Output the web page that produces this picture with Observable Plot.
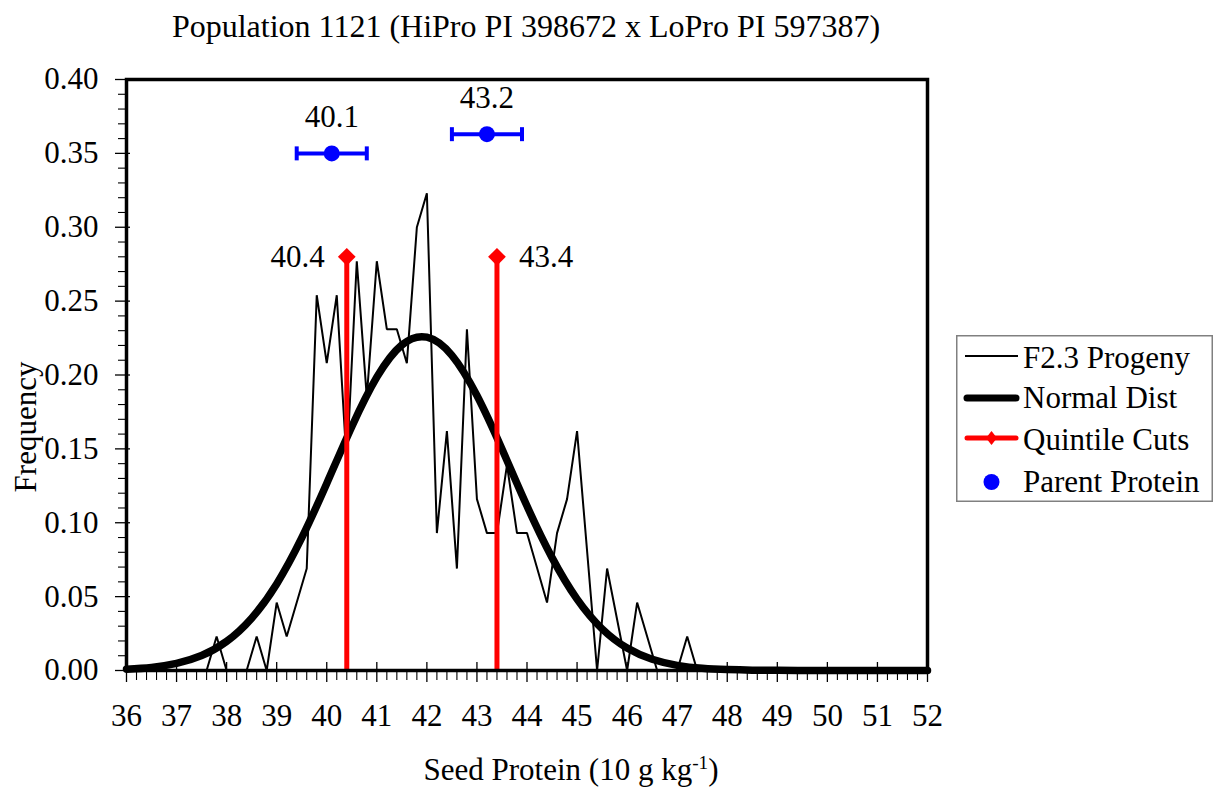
<!DOCTYPE html>
<html><head><meta charset="utf-8">
<script src="https://cdn.jsdelivr.net/npm/d3@7"></script>
<script src="https://cdn.jsdelivr.net/npm/@observablehq/plot@0.6"></script>
<style>
body{margin:0;background:#fff;font-family:"Liberation Serif","Times New Roman",serif;color:#000;}
#wrap{position:relative;width:1214px;height:790px;overflow:hidden;}
#chart{position:absolute;left:0;top:0;}
#chart svg, #chart svg text{font-family:"Liberation Serif","Times New Roman",serif !important;}
#chart svg text{font-size:31px;}
#title{position:absolute;left:0;width:1052px;top:8px;text-align:center;font-size:32px;white-space:nowrap;}
#xlabel{position:absolute;left:0;width:1142px;top:752px;text-align:center;font-size:31px;white-space:nowrap;}
#xlabel sup{font-size:0.62em;line-height:0;vertical-align:0.55em;}
#ylabel{position:absolute;left:26px;top:427px;transform:translate(-50%,-50%) rotate(-90deg);font-size:31px;white-space:nowrap;}
#legend{position:absolute;left:956px;top:335px;}
</style></head>
<body>
<div id="wrap">
  <div id="chart"></div>
  <div id="title">Population 1121 (HiPro PI 398672 x LoPro PI 597387)</div>
  <div id="xlabel">Seed Protein (10 g kg<sup>-1</sup>)</div>
  <div id="ylabel">Frequency</div>
  <svg id="legend" width="257" height="167" font-family="Liberation Serif, Times New Roman, serif" font-size="31">
    <rect x="0.75" y="0.75" width="255.5" height="165.5" fill="white" stroke="#808080" stroke-width="1.5"/>
    <line x1="9" x2="62" y1="21" y2="21" stroke="black" stroke-width="2"/>
    <text x="67" y="33">F2.3 Progeny</text>
    <line x1="11" x2="60" y1="63" y2="63" stroke="black" stroke-width="7" stroke-linecap="round"/>
    <text x="67" y="73">Normal Dist</text>
    <line x1="11" x2="60" y1="103" y2="103" stroke="red" stroke-width="5" stroke-linecap="round"/>
    <path d="M35.5 96 L41 103 L35.5 110 L30 103 Z" fill="red"/>
    <text x="67" y="115">Quintile Cuts</text>
    <circle cx="35.5" cy="147" r="8" fill="blue"/>
    <text x="67" y="157">Parent Protein</text>
  </svg>
</div>
<script>
// ---- data ----
const progenyX = [37.6,37.8,38.0,38.4,38.6,38.8,39.0,39.2,39.6,39.8,40.0,40.2,40.4,40.6,40.8,41.0,41.2,41.4,41.6,41.8,42.0,42.2,42.4,42.6,42.8,43.0,43.2,43.4,43.6,43.8,44.0,44.4,44.6,44.8,45.0,45.4,45.6,46.0,46.2,46.6,47.0,47.2,47.4];
const progenyY = [0,0.023,0,0,0.023,0,0.046,0.023,0.069,0.254,0.208,0.254,0.139,0.277,0.185,0.277,0.231,0.231,0.208,0.300,0.323,0.093,0.162,0.069,0.231,0.116,0.093,0.093,0.139,0.093,0.093,0.046,0.093,0.116,0.162,0,0.069,0,0.046,0,0,0.023,0];
const normalX = [36,36.5,37,37.5,38,38.5,39,39.5,40,40.5,41,41.5,42,42.5,43,43.5,44,44.5,45,45.5,46,46.5,47,47.5,48,48.5,49,49.5,50,50.5,51,51.5,52];
const normalY = [0.0009,0.0021,0.0048,0.0101,0.0197,0.0354,0.0586,0.0897,0.1266,0.1650,0.1985,0.2203,0.2256,0.2133,0.1861,0.1499,0.1113,0.0764,0.0483,0.0282,0.0152,0.0076,0.0035,0.0015,0.0006,0.0002,0.0001,0,0,0,0,0,0];
const cutX = [40.4, 43.4];
const cutLabels = ["40.4", "43.4"];
const cutTop = 0.28;
const parentX = [40.1, 43.2];
const parentY = [0.350, 0.363];
const parentErr = [0.7, 0.7];
const parentLabels = ["40.1", "43.2"];
const xTicks = [36,37,38,39,40,41,42,43,44,45,46,47,48,49,50,51,52];
const yTicks = [0,0.05,0.10,0.15,0.20,0.25,0.30,0.35,0.40];

// ---- derived tables ----
const progeny = progenyX.map((x, i) => ({x, y: progenyY[i]}));
const normal = normalX.map((x, i) => ({x, y: normalY[i]}));
const cuts = cutX.map((x, i) => ({x, y: cutTop, label: cutLabels[i]}));
const parents = parentX.map((x, i) => ({x, y: parentY[i], lo: x - parentErr[i], hi: x + parentErr[i], label: parentLabels[i]}));
const parentCaps = parents.flatMap(p => [{x: p.lo, y: p.y}, {x: p.hi, y: p.y}]);
const xMinor = d3.range(36, 52.0001, 0.2).map(v => +v.toFixed(1)).filter(v => Math.abs(v - Math.round(v)) > 1e-6);
const yMinor = d3.range(0, 0.4001, 0.01).map(v => +v.toFixed(2)).filter(v => Math.abs(v * 20 - Math.round(v * 20)) > 1e-6);

const capSymbol = {draw(ctx) { ctx.rect(-2, -7, 4, 14); }};
const serif = "Liberation Serif, Times New Roman, serif";

const chart = Plot.plot({
  width: 1214,
  height: 790,
  marginLeft: 126,
  marginRight: 287,
  marginTop: 79,
  marginBottom: 120,
  style: "font-family: 'Liberation Serif', 'Times New Roman', serif; font-size: 31px; color: black; background: transparent; overflow: visible;",
  x: {domain: [36, 52], label: null},
  y: {domain: [0, 0.4], label: null},
  marks: [
    Plot.axisX({ticks: xTicks, tickSize: 0, tickPadding: 33, tickFormat: d => String(d), fontSize: 31, fontFamily: serif}),
    Plot.axisY({ticks: yTicks, tickSize: 0, tickPadding: 28, tickFormat: d3.format(".2f"), fontSize: 31, fontFamily: serif}),
    Plot.tickX(xTicks, {x: d => d, insetTop: 583, insetBottom: -12, stroke: "black", strokeWidth: 1.3}),
    Plot.tickX(xMinor, {x: d => d, insetTop: 591, insetBottom: -10, stroke: "black", strokeWidth: 1.1}),
    Plot.tickY(yTicks, {y: d => d, insetLeft: -11, insetRight: 797, stroke: "black", strokeWidth: 1.3}),
    Plot.tickY(yMinor, {y: d => d, insetLeft: -8, insetRight: 801, stroke: "black", strokeWidth: 1.1}),
    Plot.line(progeny, {x: "x", y: "y", stroke: "black", strokeWidth: 2, strokeLinejoin: "miter"}),
    Plot.line(normal, {x: "x", y: "y", stroke: "black", strokeWidth: 7.5, curve: "natural"}),
    Plot.ruleX(cuts, {x: "x", y1: 0, y2: "y", stroke: "#ff0000", strokeWidth: 5}),
    Plot.dot(cuts, {x: "x", y: "y", symbol: "diamond2", r: 8, fill: "#ff0000"}),
    Plot.text(cuts.slice(0, 1), {x: "x", y: "y", text: "label", dx: -22, textAnchor: "end", fontSize: 31, fontFamily: serif}),
    Plot.text(cuts.slice(1), {x: "x", y: "y", text: "label", dx: 22, textAnchor: "start", fontSize: 31, fontFamily: serif}),
    Plot.ruleY(parents, {y: "y", x1: "lo", x2: "hi", stroke: "#0000ff", strokeWidth: 4}),
    Plot.dot(parentCaps, {x: "x", y: "y", symbol: capSymbol, fill: "#0000ff", stroke: null}),
    Plot.dot(parents, {x: "x", y: "y", r: 8, fill: "#0000ff"}),
    Plot.text(parents, {x: "x", y: "y", text: "label", dy: -36, fontSize: 31, fontFamily: serif}),
    Plot.frame({stroke: "black", strokeWidth: 3.5})
  ]
});
document.getElementById("chart").appendChild(chart);
</script>
</body></html>
